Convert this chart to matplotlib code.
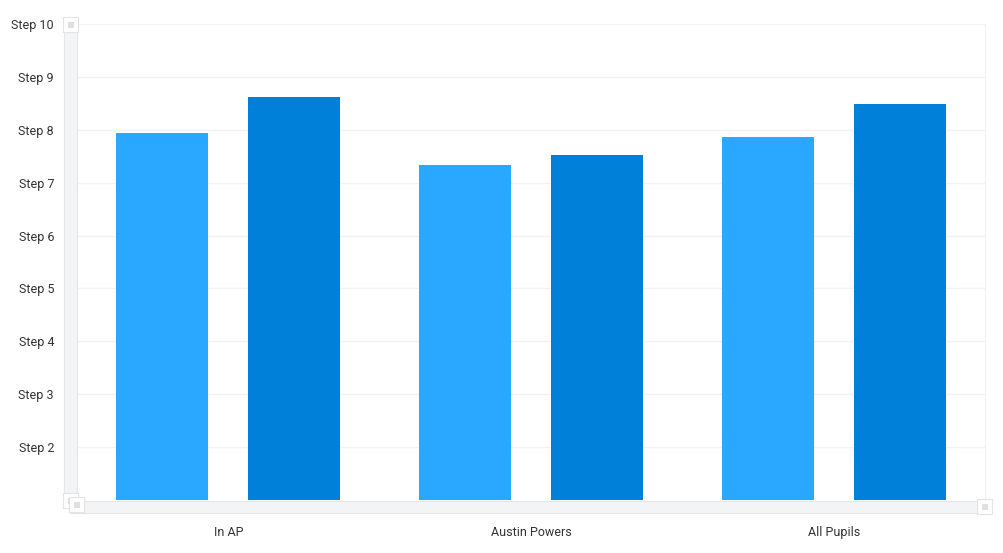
import matplotlib
matplotlib.use("Agg")
import matplotlib.pyplot as plt
from matplotlib.patches import Rectangle
import numpy as np

plt.rcParams['font.family'] = ['Roboto', 'DejaVu Sans']

categories = ["In AP", "Austin Powers", "All Pupils"]
series_a = [7.93, 7.33, 7.86]
series_b = [8.62, 7.53, 8.49]
ytick_vals = [2, 3, 4, 5, 6, 7, 8, 9, 10]
ytick_labels = ["Step %d" % v for v in ytick_vals]

W, H = 1004, 553
fig = plt.figure(figsize=(W / 100, H / 100), dpi=100)
L, R, T, B = 77, 985, 24, 500
ax = fig.add_axes([L / W, 1 - B / H, (R - L) / W, (B - T) / H])

x = np.arange(len(categories))
bw = 0.304
off = 0.218
ax.bar(x - off, [v - 1 for v in series_a], bottom=1, width=bw, color="#2AA8FF", zorder=3)
ax.bar(x + off, [v - 1 for v in series_b], bottom=1, width=bw, color="#0080D9", zorder=3)

ax.set_xlim(-0.5, 2.5)
ax.set_ylim(1, 10)
ax.set_yticks(ytick_vals)
ax.set_yticklabels(ytick_labels, fontsize=9.0, color="#333333")
ax.set_xticks(x)
ax.set_xticklabels(categories, fontsize=9.0, color="#333333")
ax.tick_params(axis='y', length=0, pad=16.5)
ax.tick_params(axis='x', length=0, pad=18.5)
ax.grid(axis='y', color="#f2f2f2", linewidth=1, zorder=0)
for s in ['top', 'left', 'bottom']:
    ax.spines[s].set_visible(False)
ax.spines['right'].set_color("#f0f0f0")

def rect(x0, y0, w, h, fc, ec=None, lw=0.8):
    fig.patches.append(Rectangle((x0 / W, 1 - (y0 + h) / H), w / W, h / H,
                                 transform=fig.transFigure, facecolor=fc,
                                 edgecolor=ec if ec else fc, linewidth=lw, zorder=5))

# vertical scrollbar
rect(64, 20, 13, 482, "#f3f4f6", "#e6e6e6")
# horizontal scrollbar
rect(70, 501, 908, 12, "#f3f4f6", "#e6e6e6")
# grips
for (gx, gy) in [(63, 17), (63, 493), (69, 497), (977, 499)]:
    rect(gx, gy, 15, 15, "#ffffff", "#e3e3e3")
    rect(gx + 5, gy + 5, 5, 5, "#e0e0e0")

fig.savefig("out.png", dpi=100)
